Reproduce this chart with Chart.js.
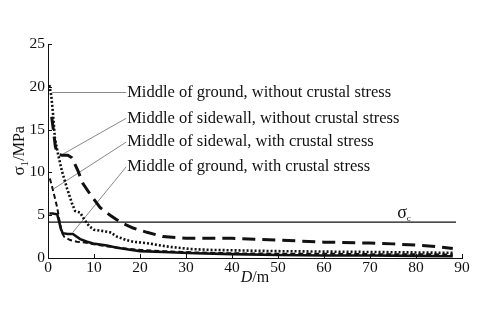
<!DOCTYPE html>
<html>
<head>
<meta charset="utf-8">
<script src="https://cdn.jsdelivr.net/npm/chart.js@4/dist/chart.umd.min.js"></script>
<style>
  body { margin: 0; background: #fff; }
  #wrap { width: 481px; height: 325px; }
</style>
</head>
<body>
<div id="wrap"><canvas id="chart" width="481" height="325"></canvas></div>
<script>
// values (D in m, stress in MPa)
const groundNoStressD = [0.3, 0.7, 1.1, 1.5, 2.2, 3, 4.1, 5.2, 5.9, 7, 8, 9, 10, 11.3, 13.5, 15, 17, 18.5, 22, 24, 26.5, 31, 35, 40, 50, 60, 70, 80, 88];
const groundNoStress  = [20.2, 19, 16.8, 14, 12.1, 10.2, 8.2, 6.4, 5.5, 5.3, 4.4, 3.7, 3.3, 3.2, 3.0, 2.5, 2.1, 1.9, 1.7, 1.5, 1.3, 1.05, 0.95, 0.9, 0.8, 0.75, 0.7, 0.65, 0.6];

const wallNoStressD = [0.8, 1.2, 1.6, 2.2, 3, 4.3, 5.2, 6.5, 7.6, 9.1, 11.3, 13.5, 15.7, 18.5, 21.5, 25, 30, 40, 45, 50, 60, 70, 75, 80, 85, 88];
const wallNoStress  = [16.5, 14.8, 13, 12.1, 12.0, 12.0, 11.7, 10.2, 8.7, 7.5, 5.9, 5.0, 4.2, 3.5, 3.0, 2.5, 2.3, 2.3, 2.2, 2.1, 1.85, 1.75, 1.65, 1.5, 1.3, 1.1];

const wallStressD = [0.4, 1.1, 2, 2.6, 3, 3.5, 4.8, 6.3, 8, 10, 13, 17, 20, 25, 32, 40, 50, 60, 70, 80, 88];
const wallStress  = [9.3, 7.9, 5.9, 4.0, 3.0, 2.5, 2.1, 1.9, 1.8, 1.6, 1.35, 1.1, 0.95, 0.8, 0.65, 0.55, 0.5, 0.5, 0.45, 0.45, 0.4];

const groundStressD = [0.3, 1, 2, 2.4, 2.8, 3.2, 4.3, 5.4, 7, 8.5, 9.8, 12.8, 15, 17.5, 20, 25, 32, 40, 50, 60, 70, 80, 88];
const groundStress  = [5.2, 5.2, 5.1, 4.3, 3.4, 2.9, 2.8, 2.8, 2.2, 1.9, 1.7, 1.45, 1.2, 1.0, 0.8, 0.7, 0.55, 0.45, 0.35, 0.3, 0.3, 0.25, 0.2];

const sigmaC = 4.2;
const sigmaCEnd = 88.7;

const xTicks = [0, 10, 20, 30, 40, 50, 60, 70, 80, 90];
const yTicks = [0, 5, 10, 15, 20, 25];

const seriesNames = [
  'Middle of ground, without crustal stress',
  'Middle of sidewall, without crustal stress',
  'Middle of sidewal, with crustal stress',
  'Middle of ground, with crustal stress'
];

// leader lines in data units: [x from, y from, x to, y to]
const leaders = [
  [0.9, 19.33, 17, 19.33],
  [3.3, 12.15, 17, 16.32],
  [1.3, 8.1, 17, 13.54],
  [5.4, 3.0, 17, 10.65]
];

const ink = '#111';
const serif = '"Liberation Serif", "DejaVu Serif", serif';

function pts(xs, ys) {
  return xs.map((x, i) => ({ x: x, y: ys[i] }));
}

const datasets = [
  { data: pts(groundNoStressD, groundNoStress), borderWidth: 2.6, borderDash: [2, 2] },
  { data: pts(wallNoStressD, wallNoStress), borderWidth: 3, borderDash: [13, 7] },
  { data: pts(wallStressD, wallStress), borderWidth: 2, borderDash: [5, 3] },
  { data: pts(groundStressD, groundStress), borderWidth: 2.6 },
  { data: [{ x: 0, y: sigmaC }, { x: sigmaCEnd, y: sigmaC }], borderWidth: 1.3 }
];
leaders.forEach(l => {
  datasets.push({ data: [{ x: l[0], y: l[1] }, { x: l[2], y: l[3] }], borderWidth: 0.7, borderColor: '#555' });
});
datasets.forEach(d => {
  d.borderColor = d.borderColor || ink;
  d.pointRadius = 0;
  d.fill = false;
  d.tension = 0;
});

const extras = {
  id: 'extras',
  afterDraw(chart) {
    const ctx = chart.ctx;
    const xs = chart.scales.x, ys = chart.scales.y;
    const area = chart.chartArea;
    ctx.save();
    ctx.strokeStyle = ink;
    ctx.lineWidth = 1;
    // inward ticks
    ctx.beginPath();
    yTicks.forEach(v => {
      const py = Math.round(ys.getPixelForValue(v)) + 0.5;
      ctx.moveTo(area.left, py);
      ctx.lineTo(area.left + 4, py);
    });
    xTicks.forEach(v => {
      const px = Math.round(xs.getPixelForValue(v)) + 0.5;
      ctx.moveTo(px, area.bottom);
      ctx.lineTo(px, area.bottom - 4);
    });
    ctx.stroke();

    ctx.fillStyle = ink;
    ctx.textBaseline = 'middle';
    ctx.font = '16.5px ' + serif;
    seriesNames.forEach((name, i) => {
      const l = leaders[i];
      ctx.fillText(name, xs.getPixelForValue(l[2]) + 1, ys.getPixelForValue(l[3]));
    });

    // sigma_c label
    let px = xs.getPixelForValue(75.9), py = ys.getPixelForValue(5.2);
    ctx.font = '18px ' + serif;
    ctx.fillText('σ', px, py);
    px += ctx.measureText('σ').width;
    ctx.font = '9px ' + serif;
    ctx.fillText('c', px, py + 5);

    // y title
    ctx.save();
    ctx.translate(20, 151);
    ctx.rotate(-Math.PI / 2);
    ctx.font = '17px ' + serif;
    const w1 = ctx.measureText('σ').width;
    ctx.font = '10px ' + serif;
    const w2 = ctx.measureText('1').width;
    ctx.font = '16px ' + serif;
    const w3 = ctx.measureText('/MPa').width;
    let tx = -(w1 + w2 + w3) / 2;
    ctx.font = '17px ' + serif;
    ctx.fillText('σ', tx, 0);
    tx += w1;
    ctx.font = '10px ' + serif;
    ctx.fillText('1', tx, 5);
    tx += w2 + 0.5;
    ctx.font = '16px ' + serif;
    ctx.fillText('/MPa', tx, 0);
    ctx.restore();

    // x title
    ctx.font = 'italic 16px ' + serif;
    const wd = ctx.measureText('D').width;
    ctx.font = '16px ' + serif;
    const wm = ctx.measureText('/m').width;
    let sx = (area.left + area.right) / 2 - (wd + wm) / 2;
    ctx.font = 'italic 16px ' + serif;
    ctx.fillText('D', sx, 278);
    ctx.font = '16px ' + serif;
    ctx.fillText('/m', sx + wd, 278);
    ctx.restore();
  }
};

new Chart(document.getElementById('chart'), {
  type: 'line',
  data: { datasets: datasets },
  options: {
    responsive: false,
    animation: false,
    layout: { padding: { top: 44, right: 19, left: 0, bottom: 0 } },
    plugins: { legend: { display: false }, tooltip: { enabled: false } },
    scales: {
      x: {
        type: 'linear',
        min: 0,
        max: 90,
        afterFit: s => { s.height = 67; },
        afterBuildTicks: s => { s.ticks = xTicks.map(v => ({ value: v })); },
        ticks: { color: ink, padding: 1, maxRotation: 0, font: { family: serif, size: 15.5 } },
        grid: { drawOnChartArea: false, drawTicks: false },
        border: { color: ink, width: 1 }
      },
      y: {
        min: 0,
        max: 25,
        afterFit: s => { s.width = 48; },
        afterBuildTicks: s => { s.ticks = yTicks.map(v => ({ value: v })); },
        ticks: { color: ink, padding: 3, font: { family: serif, size: 15.5 } },
        grid: { drawOnChartArea: false, drawTicks: false },
        border: { color: ink, width: 1 }
      }
    }
  },
  plugins: [extras]
});
</script>
</body>
</html>
